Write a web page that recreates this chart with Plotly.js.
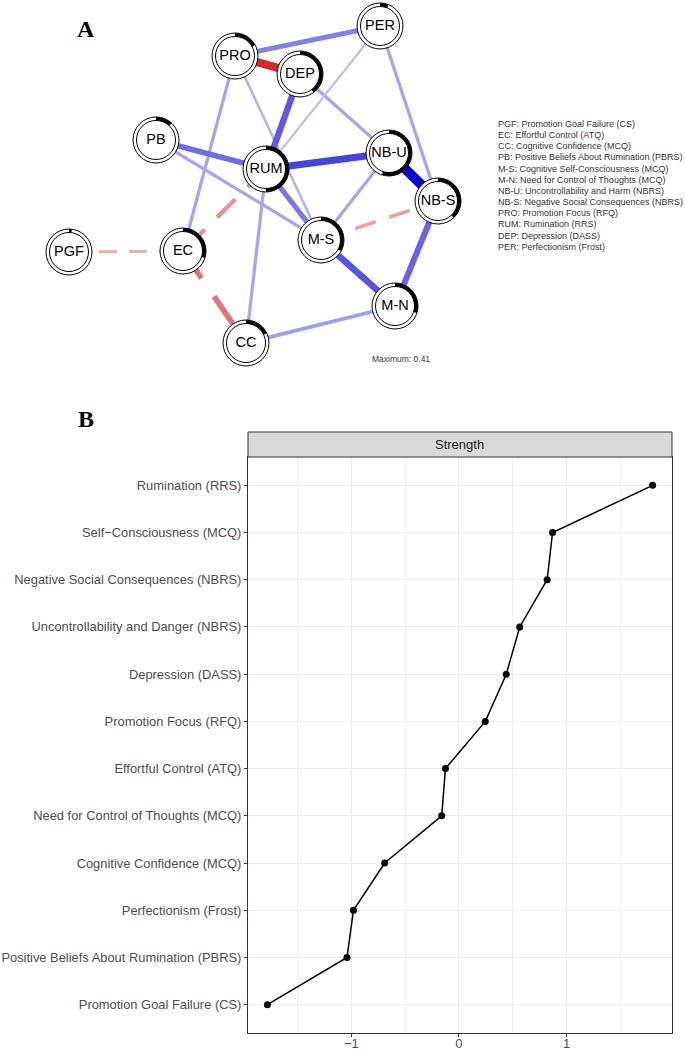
<!DOCTYPE html>
<html><head><meta charset="utf-8">
<script src="https://cdn.plot.ly/plotly-3.0.1.min.js"></script>
<style>html,body{margin:0;padding:0;background:#fff;}#chart{width:685px;height:1051px;}</style>
</head><body><div id="chart"></div>
<script>
// ---------- Panel A: network ----------
const nodeLabels  = ["PGF","EC","CC","PB","M-S","M-N","NB-U","NB-S","PRO","RUM","DEP","PER"];
const nodeX       = [69, 183, 246, 156, 321, 395, 389, 438, 235, 266, 300, 380];
const nodeY       = [252, 251, 343, 140, 240, 306, 153, 201, 56, 169, 74, 26];
const nodePredict = [0.02, 0.30, 0.18, 0.12, 0.33, 0.30, 0.55, 0.38, 0.17, 0.50, 0.40, 0.06];

const edgeFrom   = ["PRO","DEP","PRO","PRO","DEP","DEP","PER","PER","PB","PB","RUM","RUM","RUM","RUM","NB-U","NB-U","NB-S","M-S","M-N","EC","PGF","M-S"];
const edgeTo     = ["PER","PRO","EC","M-S","RUM","NB-U","RUM","NB-S","RUM","M-S","NB-U","M-S","CC","EC","NB-S","M-S","M-N","M-N","CC","CC","EC","NB-S"];
const edgeWeight = [0.18,-0.34,0.10,0.07,0.25,0.10,0.045,0.10,0.215,0.10,0.29,0.195,0.10,-0.148,0.41,0.10,0.23,0.26,0.12,-0.205,-0.086,-0.114];
const maxWeight = 0.41;

const legendLines = [
  "PGF: Promotion Goal Failure (CS)",
  "EC: Effortful Control (ATQ)",
  "CC: Cognitive Confidence (MCQ)",
  "PB: Positive Beliefs About Rumination (PBRS)",
  "M-S: Cognitive Self-Consciousness (MCQ)",
  "M-N: Need for Control of Thoughts (MCQ)",
  "NB-U: Uncontrollability and Harm (NBRS)",
  "NB-S: Negative Social Consequences (NBRS)",
  "PRO: Promotion Focus (RFQ)",
  "RUM: Rumination (RRS)",
  "DEP: Depression (DASS)",
  "PER: Perfectionism (Frost)"
];

// ---------- Panel B: strength centrality ----------
const strengthLabels = [
  "Rumination (RRS)",
  "Self\u2212Consciousness (MCQ)",
  "Negative Social Consequences (NBRS)",
  "Uncontrollability and Danger (NBRS)",
  "Depression (DASS)",
  "Promotion Focus (RFQ)",
  "Effortful Control (ATQ)",
  "Need for Control of Thoughts (MCQ)",
  "Cognitive Confidence (MCQ)",
  "Perfectionism (Frost)",
  "Positive Beliefs About Rumination (PBRS)",
  "Promotion Goal Failure (CS)"
];
const strengthValues = [1.80, 0.87, 0.82, 0.565, 0.44, 0.245, -0.125, -0.16, -0.69, -0.98, -1.04, -1.78];
const strengthTicks = [-1, 0, 1];
const strengthTickText = ["\u22121", "0", "1"];

// ---------- helpers ----------
const W = 685, H = 1051;
const py = p => 1 - p / H;
const px = p => p / W;
function idx(lbl){ return nodeLabels.indexOf(lbl); }
function mix(base, t){
  const r = Math.round(255*(1-t) + base[0]*t);
  const g = Math.round(255*(1-t) + base[1]*t);
  const b = Math.round(255*(1-t) + base[2]*t);
  return `rgb(${r},${g},${b})`;
}

const traces = [];
// edges
for (let i = 0; i < edgeFrom.length; i++) {
  const a = idx(edgeFrom[i]), b = idx(edgeTo[i]);
  const w = edgeWeight[i];
  const t = 0.2 + 0.8*Math.pow(Math.abs(w)/maxWeight, 1.2);
  const width = 1.2 + 21*Math.abs(w);
  const color = w > 0 ? mix([0,0,208], t) : mix([204,0,0], t);
  traces.push({
    type:'scatter', mode:'lines', xaxis:'x2', yaxis:'y2',
    x:[nodeX[a], nodeX[b]], y:[nodeY[a], nodeY[b]],
    line:{color:color, width:width, dash: w < 0 ? `${(6*width).toFixed(1)}px,${(4*width).toFixed(1)}px` : 'solid'},
    hoverinfo:'skip', showlegend:false
  });
}
// nodes
const R_OUT = 23, R_IN = 19.5, R_ARC = 21.25;
for (let i = 0; i < nodeLabels.length; i++) {
  traces.push({type:'scatter', mode:'markers', xaxis:'x2', yaxis:'y2',
    x:[nodeX[i]], y:[nodeY[i]],
    marker:{size:2*R_OUT, color:'white', line:{color:'black', width:1}},
    hoverinfo:'skip', showlegend:false});
  const n = 60, ax = [], ay = [];
  const end = 2*Math.PI*nodePredict[i];
  for (let k = 0; k <= n; k++) {
    const th = end*k/n;
    ax.push(nodeX[i] + R_ARC*Math.sin(th));
    ay.push(nodeY[i] - R_ARC*Math.cos(th));
  }
  traces.push({type:'scatter', mode:'lines', xaxis:'x2', yaxis:'y2',
    x:ax, y:ay, line:{color:'black', width:3.5},
    hoverinfo:'skip', showlegend:false});
  traces.push({type:'scatter', mode:'markers+text', xaxis:'x2', yaxis:'y2',
    x:[nodeX[i]], y:[nodeY[i]], text:[nodeLabels[i]], textposition:'middle center',
    textfont:{family:'Liberation Sans, Arial', size:14.5, color:'black'},
    marker:{size:2*R_IN, color:'white', line:{color:'black', width:1}},
    hoverinfo:'skip', showlegend:false});
}

// strength trace
traces.push({
  type:'scatter', mode:'lines+markers', xaxis:'x', yaxis:'y',
  x:strengthValues, y:strengthLabels,
  line:{color:'black', width:1.5}, marker:{color:'black', size:7},
  hoverinfo:'x+y', showlegend:false, cliponaxis:false
});

const annotations = [];
legendLines.forEach((s, i) => {
  annotations.push({xref:'x2', yref:'y2', x:496, y:124 + i*11.15, text:s,
    showarrow:false, xanchor:'left', yanchor:'middle',
    font:{family:'Liberation Sans, Arial', size:9, color:'#333'}});
});
annotations.push({xref:'x2', yref:'y2', x:370, y:359, text:'Maximum: 0.41', showarrow:false,
  xanchor:'left', yanchor:'middle', font:{family:'Liberation Sans, Arial', size:8.5, color:'#333'}});
annotations.push({xref:'paper', yref:'paper', x:px(86), y:py(29), text:'<b>A</b>', showarrow:false,
  xanchor:'center', yanchor:'middle', font:{family:'Liberation Serif, Times New Roman', size:24, color:'black'}});
annotations.push({xref:'paper', yref:'paper', x:px(86), y:py(419), text:'<b>B</b>', showarrow:false,
  xanchor:'center', yanchor:'middle', font:{family:'Liberation Serif, Times New Roman', size:24, color:'black'}});
annotations.push({xref:'paper', yref:'paper', x:px(460), y:py(444.5), text:'Strength', showarrow:false,
  xanchor:'center', yanchor:'middle', font:{family:'Liberation Sans, Arial', size:13, color:'#1a1a1a'}});

const layout = {
  width:W, height:H, margin:{l:0, r:0, t:0, b:0},
  paper_bgcolor:'white', plot_bgcolor:'white', showlegend:false,
  font:{family:'Liberation Sans, Arial'},
  xaxis2:{domain:[0,1], range:[0,685], visible:false, fixedrange:true, anchor:'y2'},
  yaxis2:{domain:[py(380),1], range:[380,0], visible:false, fixedrange:true, anchor:'x2'},
  xaxis:{domain:[px(248), px(672)], range:[-1.96, 1.98], anchor:'y',
    tickvals:strengthTicks, ticktext:strengthTickText, ticks:'outside', ticklen:3, tickcolor:'#333',
    tickfont:{size:13, color:'#4d4d4d'}, showgrid:true, gridcolor:'#ebebeb', gridwidth:1,
    ticklabelstandoff:-5,
    minor:{tickvals:[-1.5,-0.5,0.5,1.5], showgrid:true, gridcolor:'#f0f0f0', gridwidth:1, ticks:''},
    zeroline:false, showline:true, mirror:true, linecolor:'#333', linewidth:1},
  yaxis:{domain:[py(1033), py(457)], type:'category', categoryorder:'array', categoryarray:strengthLabels,
    range:[11.6, -0.6], anchor:'x', ticks:'outside', ticklen:3, tickcolor:'#333',
    tickfont:{size:12.9, color:'#4d4d4d'}, showgrid:true, gridcolor:'#ebebeb', gridwidth:1,
    zeroline:false, showline:true, mirror:true, linecolor:'#333', linewidth:1, ticklabelstandoff:0},
  shapes:[{type:'rect', xref:'paper', yref:'paper', x0:px(248), x1:px(672), y0:py(457), y1:py(432),
    fillcolor:'#d9d9d9', line:{color:'#333', width:1}}],
  annotations:annotations
};

Plotly.newPlot('chart', traces, layout, {displayModeBar:false, staticPlot:true});
</script>
</body></html>
